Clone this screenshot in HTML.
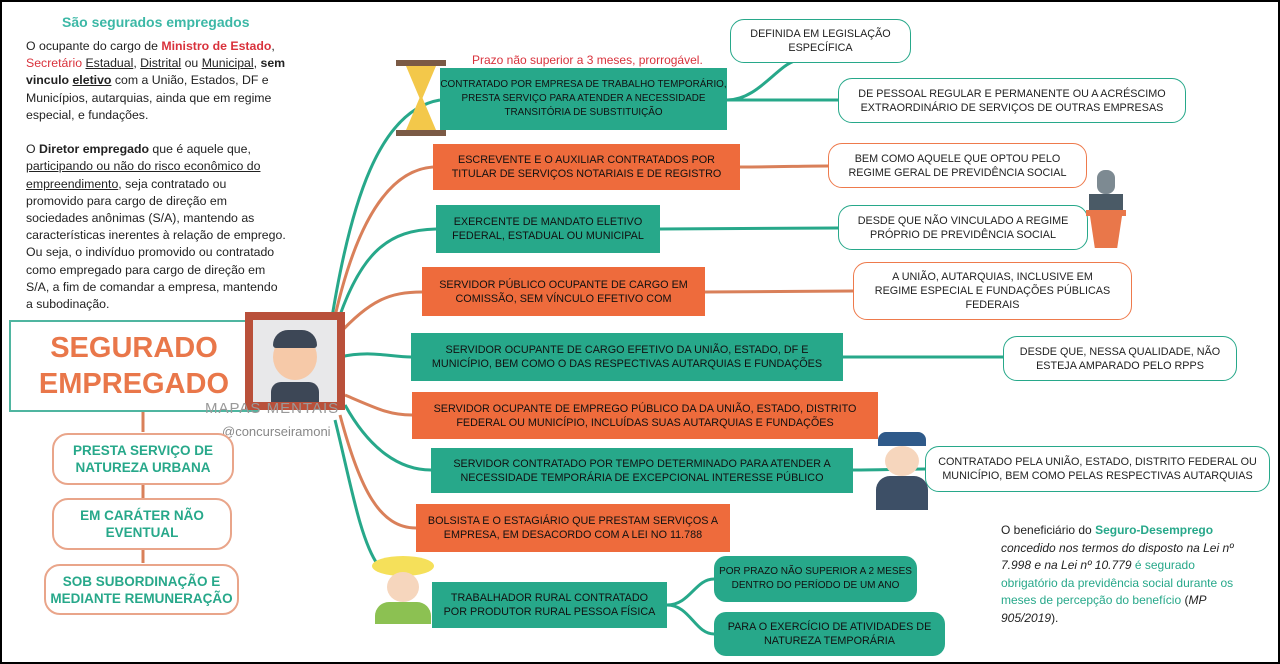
<!DOCTYPE html>
<html><head><meta charset="utf-8"><style>
body{margin:0;width:1280px;height:664px;background:#fff;font-family:"Liberation Sans",sans-serif;position:relative;overflow:hidden}
#frame{position:absolute;left:0;top:0;width:1276px;height:660px;border:2px solid #000}
.a{position:absolute;box-sizing:border-box;display:flex;align-items:center;justify-content:center;text-align:center;font-size:10.8px;line-height:14px;text-transform:uppercase;white-space:nowrap}
.t{background:#27a88a;color:#111}
.o{background:#ee6b3c;color:#111}
.ot{background:#fff;border:1.5px solid #27a88a;border-radius:14px;color:#222}
.oo{background:#fff;border:1.5px solid #ee7a4c;border-radius:14px;color:#222}
.lb{background:#fff;border:2px solid #e9a58a;border-radius:16px;color:#27a88a;font-weight:bold;font-size:13.5px;line-height:17px}
.txt{position:absolute;font-size:12.3px;line-height:17.2px;color:#222}
u{text-decoration:underline}
.r{color:#d9323c;font-weight:bold}
</style></head><body>
<div id="frame"></div>
<svg width="1280" height="664" style="position:absolute;left:0;top:0" fill="none" stroke-width="3">
<g stroke="#27a88a">
<path d="M330 330 C350 200 380 110 440 100"/>
<path d="M335 330 C360 250 390 230 436 229"/>
<path d="M340 357 C370 350 390 357 411 357"/>
<path d="M345 405 C370 450 400 470 431 470"/>
<path d="M335 420 C350 480 360 540 378 565"/>
<path d="M727 100 C760 100 780 60 800 60"/>
<path d="M727 100 C780 100 800 100 838 100"/>
<path d="M660 229 C740 229 780 228 838 228"/>
<path d="M843 357 C900 357 950 357 1003 357"/>
<path d="M853 470 C880 470 900 469 925 469"/>
<path d="M667 605 C690 605 695 579 714 579"/>
<path d="M667 605 C690 605 695 634 714 634"/>
</g>
<g stroke="#d9805a">
<path d="M332 330 C355 220 390 170 433 167"/>
<path d="M338 335 C370 300 390 292 422 292"/>
<path d="M345 395 C380 410 390 415 412 415"/>
<path d="M340 415 C360 490 380 528 416 528"/>
<path d="M740 167 C780 167 800 166 828 166"/>
<path d="M705 292 C770 292 800 291 853 291"/>
<path d="M143 410 L143 432 M143 485 L143 498 M143 550 L143 563"/>
</g>
</svg>
<div style="position:absolute;left:62px;top:14px;font-size:14px;font-weight:bold;color:#3cb8a6">São segurados empregados</div>
<div class="txt" style="left:26px;top:38px;white-space:nowrap">O ocupante do cargo de <span class="r">Ministro de Estado</span>,<br><span class="r" style="font-weight:normal">Secretário</span> <u>Estadual</u>, <u>Distrital</u> ou <u>Municipal</u>, <b>sem</b><br><b>vinculo <u>eletivo</u></b> com a União, Estados, DF e<br>Municípios, autarquias, ainda que em regime<br>especial, e fundações.<br><br>O <b>Diretor empregado</b> que é aquele que,<br><u>participando ou não do risco econômico do</u><br><u>empreendimento</u>, seja contratado ou<br>promovido para cargo de direção em<br>sociedades anônimas (S/A), mantendo as<br>características inerentes à relação de emprego.<br>Ou seja, o indivíduo promovido ou contratado<br>como empregado para cargo de direção em<br>S/A, a fim de comandar a empresa, mantendo<br>a subodinação.</div>
<div class="a" style="left:9px;top:320px;width:250px;height:92px;border:2px solid #4fb5a0;background:#fff;color:#e9774a;font-weight:bold;font-size:29px;line-height:36px">SEGURADO<br>EMPREGADO</div>
<div style="position:absolute;left:245px;top:312px;width:100px;height:98px;background:#c0573f;box-sizing:border-box;border:8px solid #b9503a"><div style="width:84px;height:82px;background:#e8e8ea;position:relative"><div style="position:absolute;left:20px;top:14px;width:44px;height:46px;border-radius:50%;background:#f6c9a8"></div><div style="position:absolute;left:20px;top:10px;width:44px;height:18px;border-radius:20px 20px 4px 4px;background:#3d4756"></div><div style="position:absolute;left:18px;top:62px;width:48px;height:20px;background:#3d4756;border-radius:10px 10px 0 0"></div></div></div>
<div style="position:absolute;left:205px;top:400px;font-size:15px;color:#999;letter-spacing:1px">MAPAS MENTAIS</div>
<div style="position:absolute;left:222px;top:424px;font-size:13px;color:#888">@concurseiramoni</div>
<div class="a lb" style="left:52px;top:433px;width:182px;height:52px">PRESTA SERVIÇO DE<br>NATUREZA URBANA</div>
<div class="a lb" style="left:52px;top:498px;width:180px;height:52px">EM CARÁTER NÃO<br>EVENTUAL</div>
<div class="a lb" style="left:44px;top:564px;width:195px;height:51px">SOB SUBORDINAÇÃO E<br>MEDIANTE REMUNERAÇÃO</div>
<div style="position:absolute;left:472px;top:53px;font-size:12px;color:#d9323c">Prazo não superior a 3 meses, prorrogável.</div>
<div style="position:absolute;left:396px;top:60px;width:50px;height:76px"><div style="height:6px;background:#7b5a45"></div><div style="margin:0 10px;height:64px;background:#f3c84a;clip-path:polygon(0 0,100% 0,55% 50%,100% 100%,0 100%,45% 50%)"></div><div style="height:6px;background:#7b5a45"></div></div>
<div class="a t" style="left:440px;top:68px;width:287px;height:62px;font-size:9.9px">Contratado por empresa de trabalho temporário,<br>presta serviço para atender a necessidade<br>transitória de substituição</div>
<div class="a o" style="left:433px;top:144px;width:307px;height:46px">Escrevente e o auxiliar contratados por<br>titular de serviços notariais e de registro</div>
<div class="a t" style="left:436px;top:205px;width:224px;height:48px">Exercente de mandato eletivo<br>federal, estadual ou municipal</div>
<div class="a o" style="left:422px;top:267px;width:283px;height:49px">Servidor público ocupante de cargo em<br>comissão, sem vínculo efetivo com</div>
<div class="a t" style="left:411px;top:333px;width:432px;height:48px">Servidor ocupante de cargo efetivo da União, Estado, DF e<br>Município, bem como o das respectivas autarquias e fundações</div>
<div class="a o" style="left:412px;top:392px;width:466px;height:47px">Servidor ocupante de emprego público da da União, Estado, Distrito<br>Federal ou Município, incluídas suas autarquias e fundações</div>
<div class="a t" style="left:431px;top:448px;width:422px;height:45px">Servidor contratado por tempo determinado para atender a<br>necessidade temporária de excepcional interesse público</div>
<div class="a o" style="left:416px;top:504px;width:314px;height:48px">Bolsista e o estagiário que prestam serviços a<br>empresa, em desacordo com a Lei no 11.788</div>
<div style="position:absolute;left:368px;top:556px;width:70px;height:76px"><div style="margin:0 auto;width:62px;height:20px;border-radius:50%;background:#f5e05a"></div><div style="margin:-4px auto 0;width:32px;height:30px;border-radius:50%;background:#f6d6bd"></div><div style="margin:0 auto;width:56px;height:22px;background:#8cc152;border-radius:14px 14px 0 0"></div></div>
<div class="a t" style="left:432px;top:582px;width:235px;height:46px">Trabalhador rural contratado<br>por produtor rural pessoa física</div>
<div class="a t" style="left:714px;top:556px;width:203px;height:46px;border-radius:12px;font-size:10px">Por prazo não superior a 2 meses<br>dentro do período de um ano</div>
<div class="a t" style="left:714px;top:612px;width:231px;height:44px;border-radius:12px">Para o exercício de atividades de<br>natureza temporária</div>
<div class="a ot" style="left:730px;top:19px;width:181px;height:44px">Definida em legislação<br>específica</div>
<div class="a ot" style="left:838px;top:78px;width:348px;height:45px">de pessoal regular e permanente ou a acréscimo<br>extraordinário de serviços de outras empresas</div>
<div class="a oo" style="left:828px;top:143px;width:259px;height:45px">bem como aquele que optou pelo<br>Regime Geral de Previdência Social</div>
<div class="a ot" style="left:838px;top:205px;width:250px;height:45px">desde que não vinculado a regime<br>próprio de previdência social</div>
<div style="position:absolute;left:1086px;top:170px;width:40px;height:84px"><div style="margin:0 auto;width:18px;height:24px;border-radius:8px;background:#7d8a92"></div><div style="margin:0 auto;width:34px;height:16px;background:#4a5a66"></div><div style="height:6px;background:#e9774a"></div><div style="margin:0 4px;height:32px;background:#e9774a;clip-path:polygon(0 0,100% 0,85% 100%,15% 100%)"></div></div>
<div class="a oo" style="left:853px;top:262px;width:279px;height:58px">A União, autarquias, inclusive em<br>regime especial e fundações públicas<br>federais</div>
<div class="a ot" style="left:1003px;top:336px;width:234px;height:45px">desde que, nessa qualidade, não<br>esteja amparado pelo RPPS</div>
<div class="a ot" style="left:925px;top:446px;width:345px;height:46px">contratado pela União, Estado, Distrito Federal ou<br>Município, bem como pelas respectivas autarquias</div>
<div style="position:absolute;left:872px;top:432px;width:60px;height:82px"><div style="margin:0 auto;width:48px;height:14px;border-radius:8px 8px 0 0;background:#2f5a8a"></div><div style="margin:0 auto;width:34px;height:30px;border-radius:50%;background:#f6d6bd"></div><div style="margin:0 auto;width:52px;height:34px;background:#3d4f66;border-radius:14px 14px 0 0"></div></div>
<div class="txt" style="left:1001px;top:522px;width:236px;font-size:12px;line-height:17.5px">O beneficiário do <b style="color:#27a88a">Seguro-Desemprego</b> <i>concedido nos termos do disposto na Lei nº 7.998 e na Lei nº 10.779</i> <span style="color:#27a88a">é segurado obrigatório da previdência social durante os meses de percepção do benefício</span> (<i>MP 905/2019</i>).</div>
</body></html>
